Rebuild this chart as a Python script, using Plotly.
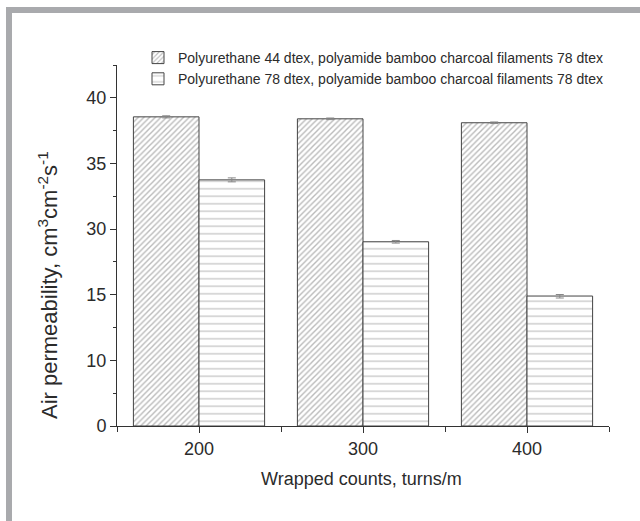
import numpy as np
import plotly.graph_objects as go

# ---- data ----
wrapped_counts = [200, 300, 400]
series_names = [
    "Polyurethane 44 dtex, polyamide bamboo charcoal filaments 78 dtex",
    "Polyurethane 78 dtex, polyamide bamboo charcoal filaments 78 dtex",
]
pu44_values = [38.55, 38.4, 38.1]
pu44_errors = [0.08, 0.06, 0.06]
pu78_values = [33.75, 27.1, 14.9]
pu78_errors = [0.15, 0.3, 0.15]

# y axis tick labels as printed on the (broken) axis; equally spaced
y_tick_labels = [0, 10, 15, 30, 35, 40]
y_tick_positions = [0, 5, 10, 15, 20, 25]


def to_axis(v):
    return np.interp(v, y_tick_labels, y_tick_positions)


def err_arrays(vals, errs):
    v = np.array(vals)
    e = np.array(errs)
    up = to_axis(v + e) - to_axis(v)
    dn = to_axis(v) - to_axis(v - e)
    return up.tolist(), dn.tolist()


FONT = "Liberation Sans, Arial, sans-serif"
TXT = "#2b2b2b"
EDGE = "#444444"

fig = go.Figure()
up1, dn1 = err_arrays(pu44_values, pu44_errors)
fig.add_trace(go.Bar(
    x=wrapped_counts, y=to_axis(pu44_values).tolist(), name=series_names[0],
    marker=dict(color="white", line=dict(color=EDGE, width=1),
                pattern=dict(shape="/", size=4, solidity=0.35,
                             fgcolor="#767676", bgcolor="white")),
    error_y=dict(type="data", array=up1, arrayminus=dn1, color="#888888",
                 thickness=1, width=4),
))
up2, dn2 = err_arrays(pu78_values, pu78_errors)
fig.add_trace(go.Bar(
    x=wrapped_counts, y=to_axis(pu78_values).tolist(), name=series_names[1],
    marker=dict(color="white", line=dict(color=EDGE, width=1),
                pattern=dict(shape="-", size=7.5, solidity=0.15,
                             fgcolor="#7a7a7a", bgcolor="white")),
    error_y=dict(type="data", array=up2, arrayminus=dn2, color="#888888",
                 thickness=1, width=4),
))

W, H = 640, 521
L, R, T, B = 117, 31, 65, 95
pw, ph = W - L - R, H - T - B


def px_x(p):
    return (p - L) / pw


def px_y(p):
    return (H - B - p) / ph


frame = "#a9aaad"
shapes = [
    dict(type="rect", xref="paper", yref="paper", x0=px_x(6), x1=px_x(645),
         y0=px_y(13), y1=px_y(7), fillcolor=frame, line=dict(width=0), layer="below"),
    dict(type="rect", xref="paper", yref="paper", x0=px_x(6), x1=px_x(12),
         y0=px_y(530), y1=px_y(7), fillcolor=frame, line=dict(width=0), layer="below"),
]

fig.update_layout(
    width=W, height=H,
    margin=dict(l=L, r=R, t=T, b=B, autoexpand=False),
    paper_bgcolor="white", plot_bgcolor="white",
    barmode="group", bargap=0.2, bargroupgap=0,
    font=dict(family=FONT, color=TXT, size=18),
    showlegend=True,
    legend=dict(x=px_x(138), y=px_y(42), xanchor="left", yanchor="top",
                bgcolor="rgba(0,0,0,0)", font=dict(size=14, color=TXT),
                itemwidth=30, tracegroupgap=0),
    shapes=shapes,
    annotations=[
        dict(text="Air permeability, cm<sup>3</sup>cm<sup>-2</sup>s<sup>-1</sup>",
             xref="paper", yref="paper", x=px_x(48), y=px_y(285),
             xanchor="center", yanchor="middle", textangle=-90,
             showarrow=False, font=dict(size=22, color=TXT)),
        dict(text="Wrapped counts, turns/m", xref="paper", yref="paper",
             x=px_x(361), y=px_y(479), xanchor="center", yanchor="middle",
             showarrow=False, font=dict(size=18, color=TXT)),
    ],
)
fig.update_xaxes(
    range=[150, 450], tickmode="linear", tick0=200, dtick=100,
    showline=True, linecolor="#333333", linewidth=1, mirror=False,
    ticks="outside", ticklen=6, tickcolor="#333333", tickwidth=1,
    minor=dict(dtick=50, tick0=150, ticks="outside", ticklen=5,
               tickcolor="#333333", tickwidth=1),
    showgrid=False, zeroline=False,
    tickfont=dict(size=18, color=TXT),
)
fig.update_yaxes(
    range=[0, 27.5], tickmode="array", tickvals=y_tick_positions,
    ticktext=[str(v) for v in y_tick_labels],
    showline=True, linecolor="#333333", linewidth=1,
    ticks="outside", ticklen=6, tickcolor="#333333", tickwidth=1,
    minor=dict(dtick=2.5, tick0=0, ticks="outside", ticklen=3,
               tickcolor="#333333", tickwidth=1, showgrid=False),
    showgrid=False, zeroline=False,
    tickfont=dict(size=18, color=TXT),
)

fig.write_html("out.html")
